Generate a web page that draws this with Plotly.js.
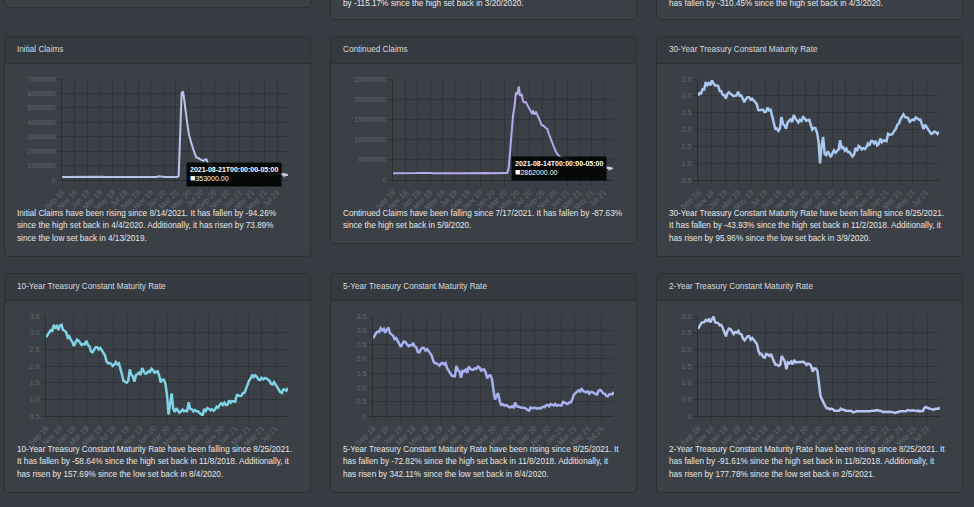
<!DOCTYPE html>
<html><head><meta charset="utf-8">
<script src="https://cdn.plot.ly/plotly-3.0.1.min.js"></script>
<style>
html,body{margin:0;padding:0;width:974px;height:507px;overflow:hidden;background:#373c43;font-family:"Liberation Sans",Arial,sans-serif;}
.card{position:absolute;background:#3b4047;border:1px solid #2c3035;border-radius:4px;box-sizing:border-box;overflow:hidden;}
.hdr{position:absolute;left:0;right:0;top:0;height:27px;background:#353a41;border-bottom:1px solid #2c3035;box-sizing:border-box;}
.hdr span{position:absolute;left:12px;top:7.5px;font-size:8.2px;color:#d9dadc;line-height:10px;white-space:nowrap}
.txt{position:absolute;left:12px;font-size:8.2px;line-height:12.5px;color:#e6e6e6;white-space:nowrap}
.plot{position:absolute}
</style></head>
<body>
<div class="card" style="left:4px;top:-20px;width:307px;height:28px"></div>
<div class="card" style="left:330px;top:-30px;width:307px;height:50px"><div class="txt" style="top:27.5px;line-height:10px">by -115.17% since the high set back in 3/20/2020.</div></div>
<div class="card" style="left:656px;top:-30px;width:307px;height:50px"><div class="txt" style="top:27.5px;line-height:10px">has fallen by -310.45% since the high set back in 4/3/2020.</div></div>

<div class="card" style="left:4px;top:36px;width:307px;height:221px"><div class="hdr"><span>Initial Claims</span></div>
<div class="txt" style="top:170.75px">Initial Claims have been rising since 8/14/2021. It has fallen by -94.26%<br>since the high set back in 4/4/2020. Additionally, it has risen by 73.89%<br>since the low set back in 4/13/2019.</div></div>
<div class="card" style="left:330px;top:36px;width:307px;height:208px"><div class="hdr"><span>Continued Claims</span></div>
<div class="txt" style="top:170.75px">Continued Claims have been falling since 7/17/2021. It has fallen by -87.63%<br>since the high set back in 5/9/2020.</div></div>
<div class="card" style="left:656px;top:36px;width:307px;height:221px"><div class="hdr"><span>30-Year Treasury Constant Maturity Rate</span></div>
<div class="txt" style="top:170.75px">30-Year Treasury Constant Maturity Rate have been falling since 8/25/2021.<br>It has fallen by -43.93% since the high set back in 11/2/2018. Additionally, it<br>has risen by 95.96% since the low set back in 3/9/2020.</div></div>

<div class="card" style="left:4px;top:273px;width:307px;height:220px"><div class="hdr"><span>10-Year Treasury Constant Maturity Rate</span></div>
<div class="txt" style="top:169.75px">10-Year Treasury Constant Maturity Rate have been falling since 8/25/2021.<br>It has fallen by -58.64% since the high set back in 11/8/2018. Additionally, it<br>has risen by 157.69% since the low set back in 8/4/2020.</div></div>
<div class="card" style="left:330px;top:273px;width:307px;height:220px"><div class="hdr"><span>5-Year Treasury Constant Maturity Rate</span></div>
<div class="txt" style="top:169.75px">5-Year Treasury Constant Maturity Rate have been rising since 8/25/2021. It<br>has fallen by -72.82% since the high set back in 11/8/2018. Additionally, it<br>has risen by 342.11% since the low set back in 8/4/2020.</div></div>
<div class="card" style="left:656px;top:273px;width:307px;height:220px"><div class="hdr"><span>2-Year Treasury Constant Maturity Rate</span></div>
<div class="txt" style="top:169.75px">2-Year Treasury Constant Maturity Rate have been rising since 8/25/2021. It<br>has fallen by -91.61% since the high set back in 11/8/2018. Additionally, it<br>has risen by 177.78% since the low set back in 2/5/2021.</div></div>

<div id="pInit" class="plot" style="left:4px;top:64px;width:307px;height:152px"></div>
<div id="pCont" class="plot" style="left:330px;top:64px;width:307px;height:152px"></div>
<div id="p30" class="plot" style="left:656px;top:64px;width:307px;height:152px"></div>
<div id="p10" class="plot" style="left:4px;top:300px;width:307px;height:152px"></div>
<div id="p5" class="plot" style="left:330px;top:300px;width:307px;height:152px"></div>
<div id="p2" class="plot" style="left:656px;top:300px;width:307px;height:152px"></div>

<script>
// ---- data (weekly observations) ----
const claimsStart = '2018-09-01';   // Saturdays
const ratesStart = '2018-08-31';    // Fridays

// Initial claims, thousands
const initialClaimsK = [
 206,208,207,215,209, 210,212,216,215, 214,221,224,235, 231,206,217,221,233,
 216,213,210,253, 234,239,216,225, 223,229,221,211,210, 208,203,230,230, 228,212,211,215, 220,219,216,228,222,
 209,216,211,215, 207,211,209,215,217, 210,208,213,215, 218,212,216,218, 211,225,227,213,208, 252,235,222,224,
 214,207,212,216, 212,210,210,219,217, 211,282,3307,6015, 6150,5240,4440,3850, 3170,2690,2450,2120,1900,
 1570,1540,1480,1430, 1400,1310,1420,1430, 1190,970,1100,1010,880, 890,870,840,810, 790,770,760,750,740,
 720,740,780,720, 850,890,800,790,
 900,780,870,810,790, 820,790,740,730, 710,770,660,740, 610,590,560,590, 500,480,450,410,400,
 390,420,410,390, 380,410,420,400,390, 385,349,353
];
// Continued claims, thousands
const continuedClaimsK = [
 1700,1690,1670,1660,1650, 1640,1630,1640,1660, 1670,1680,1690,1700, 1680,1690,1700,1710,1720,
 1740,1730,1720,1750, 1770,1750,1720,1750, 1760,1740,1700,1690,1680, 1680,1660,1670,1680, 1680,1670,1680,1690,
 1690,1700,1690,1700,1690, 1680,1690,1700,1690, 1700,1710,1680,1690,1670, 1660,1680,1690,1690, 1700,1680,1690,1700,
 1690,1700,1690,1680,1710, 1720,1700,1720,1730,
 1750,1760,1740,1730, 1720,1700,1720,1730,1720, 1700,1780,3060,7450, 12440,15980,18010,21660,
 21100,23140,20840,21270,19520, 19200,19290,18600,17950, 17600,16600,17030,16200, 16900,16200,15200,14500,13600,
 13500,13200,12800,12600, 11500,10500,9400,8400,7800, 7000,6400,6000,5700, 5500,5300,5200,5100,
 5100,4900,4800,4700,4600, 4500,4400,4300,4200, 4100,3900,3800,3700, 3700,3650,3700,3680,
 3600,3640,3700,3500,3450, 3400,3390,3350,3300, 3240,3260,3280,3200,3000, 2930,2862
];
// 30-Year Treasury, percent
const treasury30 = [
 3.00, 3.08,3.07,3.20,3.19, 3.41,3.32,3.38,3.31, 3.46,3.37,3.31,3.31,3.30, 3.14,3.14,3.03,3.02,
 2.92,3.06,3.10,3.06, 3.03,2.99,3.00,3.01, 3.12,3.00,3.01,2.88,2.81, 2.91,2.96,2.96,2.89, 2.92,2.87,2.83,2.76,2.58,
 2.57,2.59,2.59,2.52, 2.53,2.65,2.57,2.59, 2.38,2.25,2.02,2.03,1.96, 2.02,2.37,2.17,2.12, 2.02,2.21,2.26,2.30,
 2.22,2.43,2.33,2.25,2.21, 2.29,2.25,2.37,2.33,
 2.26,2.28,2.29,2.14,2.00, 2.05,2.04,1.92,1.65, 0.99,1.53,1.78,1.27, 1.24,1.35,1.27,1.18, 1.29,1.38,1.31,1.38,1.41,
 1.68,1.45,1.47,1.37, 1.43,1.33,1.33,1.25,1.20, 1.25,1.46,1.36,1.51, 1.47,1.41,1.45,1.42, 1.48,1.58,1.52,1.66,1.66,
 1.59,1.66,1.53,1.57, 1.73,1.62,1.67,1.67,
 1.65,1.87,1.84,1.85,1.87, 1.96,2.01,2.14,2.17, 2.30,2.40,2.45,2.37, 2.35,2.34,2.23,2.26,2.30, 2.28,2.36,2.33,2.29,
 2.29,2.15,2.01,2.14, 2.06,1.99,1.93,1.87,1.89, 1.94,1.92,1.87,1.93
];
// 10-Year Treasury
const treasury10 = [
 2.86, 2.94,2.99,3.07,3.05, 3.23,3.15,3.20,3.08, 3.22,3.24,3.08,3.06,3.01, 2.85,2.89,2.79,2.72,
 2.60,2.71,2.79,2.76, 2.70,2.63,2.66,2.65, 2.76,2.63,2.59,2.44,2.41, 2.50,2.56,2.56,2.50, 2.54,2.47,2.39,2.32,2.14,
 2.08,2.09,2.06,2.00, 2.04,2.12,2.05,2.08, 1.86,1.74,1.55,1.52,1.50, 1.55,1.90,1.74,1.69, 1.53,1.73,1.76,1.80,
 1.73,1.94,1.84,1.77,1.78, 1.84,1.82,1.92,1.88,
 1.80,1.83,1.84,1.70,1.51, 1.59,1.59,1.47,1.13, 0.54,0.96,1.18,0.72, 0.62,0.73,0.65,0.60, 0.64,0.69,0.64,0.66,0.65,
 0.91,0.71,0.70,0.64, 0.68,0.64,0.64,0.59,0.55, 0.52,0.71,0.65,0.74, 0.72,0.67,0.70,0.66, 0.70,0.78,0.75,0.84,0.88,
 0.83,0.90,0.83,0.84, 0.97,0.90,0.95,0.94,
 0.93,1.13,1.11,1.10,1.11, 1.19,1.20,1.34,1.44, 1.57,1.63,1.74,1.67, 1.72,1.67,1.59,1.58,1.65, 1.60,1.64,1.63,1.59,
 1.56,1.47,1.45,1.52, 1.44,1.37,1.29,1.22,1.19, 1.30,1.29,1.26,1.34
];
// 5-Year Treasury
const treasury5 = [
 2.72, 2.82,2.90,2.95,2.94, 3.07,3.00,3.05,2.91, 3.03,3.09,2.90,2.87,2.81, 2.69,2.73,2.63,2.51,
 2.42,2.52,2.61,2.58, 2.51,2.44,2.48,2.47, 2.56,2.43,2.41,2.24,2.23, 2.34,2.39,2.38,2.29, 2.34,2.27,2.19,2.12,1.93,
 1.85,1.85,1.80,1.76, 1.84,1.86,1.80,1.85, 1.67,1.58,1.47,1.41,1.39, 1.39,1.75,1.60,1.56, 1.34,1.58,1.56,1.62,
 1.51,1.73,1.65,1.62,1.62, 1.67,1.65,1.73,1.69,
 1.59,1.63,1.63,1.51,1.32, 1.41,1.42,1.30,0.89, 0.58,0.70,0.80,0.52, 0.39,0.41,0.36,0.38, 0.36,0.31,0.31,0.34,0.30,
 0.47,0.33,0.33,0.30, 0.29,0.30,0.28,0.26,0.21, 0.19,0.30,0.27,0.28, 0.29,0.26,0.28,0.26, 0.28,0.32,0.31,0.37,0.39,
 0.34,0.42,0.38,0.37, 0.42,0.36,0.38,0.38,
 0.36,0.49,0.46,0.44,0.42, 0.47,0.47,0.58,0.75, 0.80,0.85,0.89,0.86, 0.97,0.87,0.85,0.83,0.86, 0.78,0.84,0.84,0.80,
 0.78,0.75,0.88,0.91, 0.87,0.79,0.78,0.71,0.69, 0.76,0.77,0.76,0.84
];
// 2-Year Treasury
const treasury2 = [
 2.61, 2.71,2.78,2.81,2.81, 2.88,2.85,2.90,2.81, 2.91,2.98,2.81,2.81,2.79, 2.72,2.73,2.64,2.52,
 2.39,2.55,2.62,2.60, 2.51,2.46,2.52,2.50, 2.55,2.46,2.45,2.32,2.27, 2.34,2.39,2.39,2.29, 2.34,2.27,2.20,2.16,1.95,
 1.85,1.86,1.77,1.75, 1.86,1.84,1.80,1.86, 1.73,1.63,1.54,1.54,1.50, 1.53,1.80,1.69,1.63, 1.40,1.61,1.58,1.63,
 1.55,1.68,1.61,1.61,1.61, 1.62,1.61,1.63,1.59,
 1.53,1.57,1.56,1.49,1.33, 1.43,1.42,1.35,0.92, 0.59,0.49,0.37,0.30, 0.23,0.23,0.20,0.22, 0.20,0.16,0.16,0.17,0.16,
 0.22,0.19,0.19,0.16, 0.16,0.15,0.15,0.15,0.11, 0.13,0.15,0.15,0.14, 0.14,0.13,0.14,0.13, 0.13,0.15,0.14,0.16,0.15,
 0.16,0.18,0.16,0.16, 0.15,0.12,0.13,0.13,
 0.13,0.14,0.13,0.12,0.11, 0.09,0.11,0.11,0.14, 0.14,0.15,0.15,0.14, 0.18,0.16,0.16,0.17,0.16, 0.15,0.15,0.16,0.14,
 0.15,0.15,0.25,0.27, 0.24,0.22,0.22,0.20,0.19, 0.22,0.22,0.22,0.25
];

// tick labels
const initialTicks = [0,1000000,2000000,3000000,4000000,5000000,6000000,7000000];
const continuedTicks = [0,5000000,10000000,15000000,20000000,25000000];
const rateTicks30 = [0.5,1.0,1.5,2.0,2.5,3.0,3.5];
const rateLabels30 = ['0.5','1.0','1.5','2.0','2.5','3.0','3.5'];
const rateTicks5 = [0,0.5,1.0,1.5,2.0,2.5,3.0,3.5];
const rateLabels5 = ['0','0.5','1.0','1.5','2.0','2.5','3.0','3.5'];
const rateTicks2 = [0,0.5,1.0,1.5,2.0,2.5,3.0];
const rateLabels2 = ['0','0.5','1.0','1.5','2.0','2.5','3.0'];

function weeklyDates(start, n){
  const out=[]; const t0=Date.parse(start+'T00:00:00Z');
  for(let i=0;i<n;i++){ out.push(new Date(t0+i*7*86400000).toISOString().slice(0,10)); }
  return out;
}

const GRID='rgba(0,0,0,0.17)';
const AXIS='rgba(0,0,0,0.3)';
const YFONT={family:'Liberation Sans, Arial, sans-serif',size:7.2,color:'#62676f'};
const XFONT={family:'Liberation Sans, Arial, sans-serif',size:7.6,color:'#62676f'};

function draw(id, cfg){
  const dates = weeklyDates(cfg.start, cfg.values.length);
  const vals = cfg.values;
  const n = vals.length;
  const traces=[{x:dates,y:vals,type:'scatter',mode:'lines',line:{color:cfg.color,width:cfg.width},hoverinfo:'skip'}];
  const ann=[];
  if(cfg.tooltip){
    ann.push({x:dates[n-1],y:vals[n-1],xref:'x',yref:'y',xanchor:'right',yanchor:'middle',
      showarrow:true,ax:-6,ay:0,arrowcolor:'#cfd3da',arrowhead:2,arrowsize:0.9,arrowwidth:1,standoff:0,
      align:'left',bgcolor:'rgba(0,0,0,0.88)',borderpad:3,
      font:{family:'Liberation Sans, Arial, sans-serif',size:7,color:'#ffffff'},
      text:'<b>'+dates[n-1]+'T00:00:00-05:00</b><br><span style="font-size:9px">■</span>'+vals[n-1].toFixed(2)});
  }
  const layout={
    margin:cfg.margin, paper_bgcolor:'rgba(0,0,0,0)', plot_bgcolor:'rgba(0,0,0,0)', showlegend:false,
    font:YFONT,
    xaxis:{type:'date',range:[cfg.x0, dates[n-1]],tick0:'2018-09-01',dtick:'M2',tickformat:'%b %y',tickangle:-45,
      showgrid:true,gridcolor:GRID,gridwidth:1,ticks:'outside',ticklen:4,tickcolor:GRID,
      showline:true,linecolor:AXIS,zeroline:false,automargin:false,tickfont:XFONT,fixedrange:true},
    yaxis:{range:cfg.yRange,tickmode:'array',tickvals:cfg.yTicks,ticktext:cfg.yLabels,
      showgrid:true,gridcolor:GRID,ticks:'outside',ticklen:4,tickcolor:GRID,
      showline:true,linecolor:AXIS,zeroline:false,automargin:false,tickfont:YFONT,fixedrange:true},
    annotations:ann
  };
  Plotly.newPlot(id,traces,layout,{staticPlot:true,displayModeBar:false});
}

draw('pInit',{start:claimsStart,x0:'2018-08-31 12:00',values:initialClaimsK.map(v=>v*1000),color:'#b9c3ef',width:2,
  yRange:[0,7000000],yTicks:initialTicks,yLabels:initialTicks.map(String),tooltip:true,margin:{l:58,r:23,t:15,b:36}});
draw('pCont',{start:claimsStart,x0:'2018-08-31 12:00',values:continuedClaimsK.map(v=>v*1000),color:'#baa8ee',width:2,
  yRange:[0,25000000],yTicks:continuedTicks,yLabels:continuedTicks.map(String),tooltip:true,margin:{l:63,r:24,t:15,b:36}});
draw('p30',{start:ratesStart,x0:ratesStart,values:treasury30,color:'#a9c8ef',width:2.5,
  yRange:[0.5,3.5],yTicks:rateTicks30,yLabels:rateLabels30,margin:{l:42,r:24,t:15,b:36}});
draw('p10',{start:ratesStart,x0:ratesStart,values:treasury10,color:'#7fd3e6',width:2.5,
  yRange:[0.5,3.5],yTicks:rateTicks30,yLabels:rateLabels30,margin:{l:42,r:23,t:16,b:36}});
draw('p5',{start:ratesStart,x0:ratesStart,values:treasury5,color:'#a7b1f0',width:2.5,
  yRange:[0,3.5],yTicks:rateTicks5,yLabels:rateLabels5,margin:{l:43,r:23,t:16,b:36}});
draw('p2',{start:ratesStart,x0:ratesStart,values:treasury2,color:'#b4c5f0',width:2.5,
  yRange:[0,3.0],yTicks:rateTicks2,yLabels:rateLabels2,margin:{l:42,r:23,t:16,b:36}});
</script>
</body></html>
